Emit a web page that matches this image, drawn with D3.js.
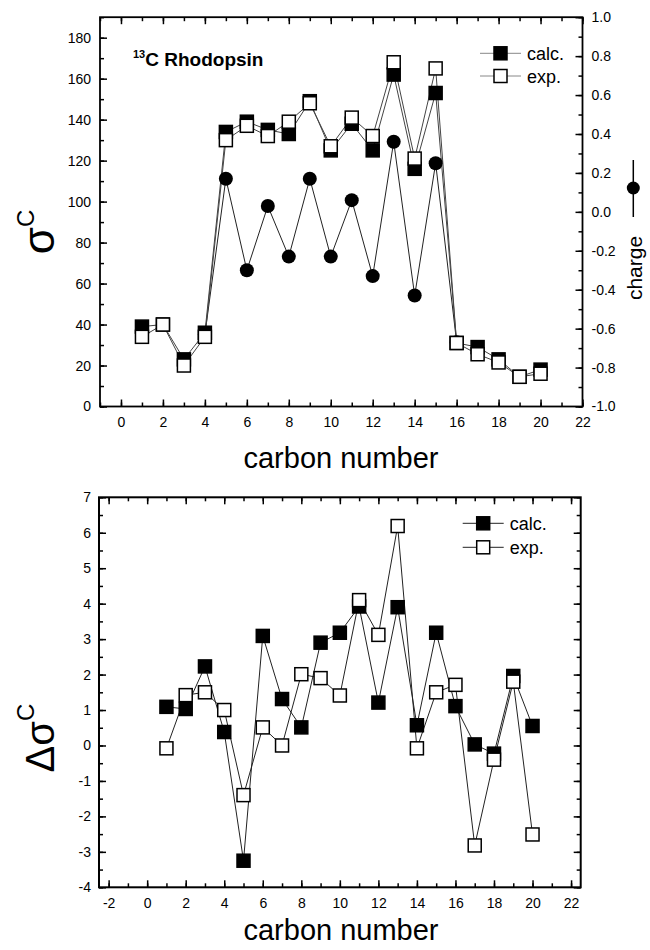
<!DOCTYPE html>
<html>
<head>
<meta charset="utf-8">
<script src="https://cdnjs.cloudflare.com/ajax/libs/d3/7.8.5/d3.min.js"></script>
<style>
  body { margin: 0; background: #fff; }
  text { font-family: "Liberation Sans", Arial, sans-serif; fill: #000; }
</style>
</head>
<body>
<div id="chart"></div>
<script>
// ---- data ----
var carbons = [1,2,3,4,5,6,7,8,9,10,11,12,13,14,15,16,17,18,19,20];

// top panel: 13C shielding (left axis) and charge (right axis)
var shieldCalc = [39,40,23,36,134,139,135,133,149,125,138,125,162,116,153,31,29,23,14.5,18];
var shieldExp  = [34,40,20,34,130,137,132,139,148,127,141,132,168,121,165,31,25.5,21.5,14.5,16];
var chargeCarbons = [4,5,6,7,8,9,10,11,12,13,14,15,16];
var charge = [-0.63,0.17,-0.30,0.03,-0.23,0.17,-0.23,0.06,-0.33,0.36,-0.43,0.25,-0.67];

// bottom panel: delta sigma
var deltaCalc = [1.09,1.03,2.23,0.38,-3.25,3.09,1.31,0.51,2.9,3.18,3.92,1.21,3.9,0.57,3.18,1.11,0.03,-0.23,1.96,0.55];
var deltaExp  = [-0.08,1.42,1.5,1.0,-1.4,0.51,0.0,2.01,1.9,1.41,4.1,3.12,6.19,-0.08,1.5,1.71,-2.82,-0.4,1.8,-2.51];

var topXTicks = [0,2,4,6,8,10,12,14,16,18,20,22];
var topYTicks = [0,20,40,60,80,100,120,140,160,180];
var chargeTicks = [-1.0,-0.8,-0.6,-0.4,-0.2,0.0,0.2,0.4,0.6,0.8,1.0];
var botXTicks = [-2,0,2,4,6,8,10,12,14,16,18,20,22];
var botYTicks = [-4,-3,-2,-1,0,1,2,3,4,5,6,7];
var legendNames = ["calc.", "exp."];

var svg = d3.select("#chart").append("svg")
  .attr("width", 650).attr("height", 950);
svg.append("rect").attr("width", 650).attr("height", 950).attr("fill", "#fff");

function minorOf(lo, hi, step) {
  var out = [];
  for (var v = lo; v <= hi + 1e-9; v += step) out.push(+v.toFixed(3));
  return out;
}

function drawAxis(g, axisFn, scale, majors, minorStep, fmt, pad, showLabels) {
  var dom = scale.domain();
  var minors = minorOf(Math.ceil(dom[0] / minorStep) * minorStep, dom[1], minorStep);
  g.append("g").call(axisFn(scale).tickValues(minors).tickSizeInner(-4).tickSizeOuter(0).tickFormat(""))
    .call(function(s){ s.select(".domain").remove(); });
  var maj = g.append("g").call(axisFn(scale).tickValues(majors).tickSizeInner(-7).tickSizeOuter(0)
      .tickPadding(pad).tickFormat(showLabels ? fmt : ""))
    .call(function(s){ s.select(".domain").remove(); });
  g.selectAll("line").attr("stroke", "#000").attr("stroke-width", 1.5);
  maj.selectAll("text").attr("font-size", 14).attr("font-family", "Liberation Sans, Arial, sans-serif").attr("fill", "#000");
}

function squares(g, xs, ys, x, y, fill) {
  g.selectAll(null).data(xs).enter().append("rect")
    .attr("x", function(d){ return x(d) - 6.5; })
    .attr("y", function(d, i){ return y(ys[i]) - 6.5; })
    .attr("width", 13).attr("height", 13)
    .attr("fill", fill).attr("stroke", "#000").attr("stroke-width", 1.5);
}

function line(g, xs, ys, x, y, color) {
  var l = d3.line().x(function(d){ return x(d[0]); }).y(function(d){ return y(d[1]); });
  g.append("path").datum(xs.map(function(d, i){ return [d, ys[i]]; }))
    .attr("d", l).attr("fill", "none").attr("stroke", color).attr("stroke-width", 1);
}

function legend(g, x0, y0, gap, color) {
  legendNames.forEach(function(name, i) {
    var yy = y0 + i * gap;
    g.append("line").attr("x1", x0).attr("x2", x0 + 41).attr("y1", yy).attr("y2", yy)
      .attr("stroke", color).attr("stroke-width", 1);
    g.append("rect").attr("x", x0 + 20.5 - 6.5).attr("y", yy - 6.5).attr("width", 13).attr("height", 13)
      .attr("fill", i === 0 ? "#000" : "#fff").attr("stroke", "#000").attr("stroke-width", 1.5);
    g.append("text").attr("x", x0 + 47).attr("y", yy + 6.5).attr("font-size", 18).text(name);
  });
}

// ---------- top panel ----------
var t = { left: 100, right: 582.5, top: 17.2, bottom: 406.5 };
var xT = d3.scaleLinear().domain([-1, 22]).range([t.left, t.right]);
var yT = d3.scaleLinear().domain([0, 190]).range([t.bottom, t.top]);
var yC = d3.scaleLinear().domain([-1, 1]).range([t.bottom, t.top]);
var gT = svg.append("g");

line(gT, chargeCarbons, charge, xT, yC, "#222");
line(gT, carbons, shieldCalc, xT, yT, "#444");
line(gT, carbons, shieldExp, xT, yT, "#444");
gT.selectAll(null).data(chargeCarbons).enter().append("circle")
  .attr("cx", function(d){ return xT(d); })
  .attr("cy", function(d, i){ return yC(charge[i]); })
  .attr("r", 7).attr("fill", "#000");
squares(gT, carbons, shieldCalc, xT, yT, "#000");
squares(gT, carbons, shieldExp, xT, yT, "#fff");

drawAxis(gT.append("g").attr("transform", "translate(" + t.left + ",0)"), d3.axisLeft, yT, topYTicks, 10, d3.format("d"), 9, true);
drawAxis(gT.append("g").attr("transform", "translate(" + t.right + ",0)"), d3.axisRight, yC, chargeTicks, 0.1, function(d){ return d.toFixed(1); }, 9, true);
drawAxis(gT.append("g").attr("transform", "translate(0," + t.bottom + ")"), d3.axisBottom, xT, topXTicks, 1, d3.format("d"), 11, true);
drawAxis(gT.append("g").attr("transform", "translate(0," + t.top + ")"), d3.axisTop, xT, topXTicks, 1, d3.format("d"), 9, false);
gT.append("rect").attr("x", t.left).attr("y", t.top).attr("width", t.right - t.left).attr("height", t.bottom - t.top)
  .attr("fill", "none").attr("stroke", "#000").attr("stroke-width", 1.8);

legend(gT, 480, 53.3, 22.7, "#888");

var title = gT.append("text").attr("x", 133).attr("y", 66).attr("font-weight", "bold");
title.append("tspan").attr("font-size", 11).attr("dy", -8).text("13");
title.append("tspan").attr("font-size", 19).attr("dy", 8).text("C Rhodopsin");

gT.append("text").attr("x", 341).attr("y", 468).attr("text-anchor", "middle").attr("font-size", 29).text("carbon number");

var sig = gT.append("text").attr("transform", "translate(54,232) rotate(-90)").attr("text-anchor", "middle");
sig.append("tspan").attr("font-size", 44).text("σ");
sig.append("tspan").attr("font-size", 24).attr("dy", -20).text("C");

// right label: charge with symbol
gT.append("text").attr("transform", "translate(642,268) rotate(-90)").attr("text-anchor", "middle")
  .attr("font-size", 21).text("charge");
gT.append("line").attr("x1", 633.3).attr("x2", 633.3).attr("y1", 160).attr("y2", 217).attr("stroke", "#000").attr("stroke-width", 1.5);
gT.append("circle").attr("cx", 633.3).attr("cy", 188).attr("r", 6.5).attr("fill", "#000");

// ---------- bottom panel ----------
var b = { left: 99, right: 580.7, top: 497.3, bottom: 887.3 };
var xB = d3.scaleLinear().domain([-2.5, 22.5]).range([b.left, b.right]);
var yB = d3.scaleLinear().domain([-4, 7]).range([b.bottom, b.top]);
var gB = svg.append("g");

line(gB, carbons, deltaCalc, xB, yB, "#222");
line(gB, carbons, deltaExp, xB, yB, "#222");
squares(gB, carbons, deltaCalc, xB, yB, "#000");
squares(gB, carbons, deltaExp, xB, yB, "#fff");

drawAxis(gB.append("g").attr("transform", "translate(" + b.left + ",0)"), d3.axisLeft, yB, botYTicks, 0.5, function(d){ return String(d); }, 8, true);
drawAxis(gB.append("g").attr("transform", "translate(" + b.right + ",0)"), d3.axisRight, yB, botYTicks, 0.5, null, 8, false);
drawAxis(gB.append("g").attr("transform", "translate(0," + b.bottom + ")"), d3.axisBottom, xB, botXTicks, 1, function(d){ return String(d); }, 11, true);
drawAxis(gB.append("g").attr("transform", "translate(0," + b.top + ")"), d3.axisTop, xB, botXTicks, 1, null, 9, false);
gB.append("rect").attr("x", b.left).attr("y", b.top).attr("width", b.right - b.left).attr("height", b.bottom - b.top)
  .attr("fill", "none").attr("stroke", "#000").attr("stroke-width", 2);

legend(gB, 462.7, 523.3, 24, "#222");

gB.append("text").attr("x", 341).attr("y", 940).attr("text-anchor", "middle").attr("font-size", 29).text("carbon number");

var dsig = gB.append("text").attr("transform", "translate(54,738) rotate(-90)").attr("text-anchor", "middle");
dsig.append("tspan").attr("font-size", 40).text("Δσ");
dsig.append("tspan").attr("font-size", 24).attr("dy", -20).text("C");
</script>
</body>
</html>
